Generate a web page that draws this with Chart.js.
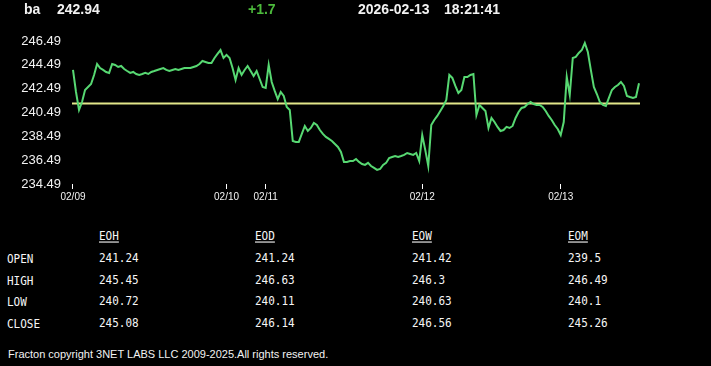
<!DOCTYPE html>
<html>
<head>
<meta charset="utf-8">
<script src="https://cdn.jsdelivr.net/npm/chart.js@4/dist/chart.umd.min.js"></script>
<style>
  html, body { margin: 0; padding: 0; background: #000; }
  body { width: 711px; height: 366px; position: relative; overflow: hidden; color: #f2f2f2; }
  .hdr { position: absolute; top: 2px; font: bold 14px "Liberation Sans", Arial, sans-serif; line-height: 14px; white-space: nowrap; }
  .cell { position: absolute; font: 11px "DejaVu Sans Mono", monospace; line-height: 12px; white-space: nowrap; color: #f6f6f6; transform: scaleY(1.12); transform-origin: 0 50%; }
  .cell.head { text-decoration: underline; }
  #chartBox { position: absolute; left: 0; top: 0; width: 711px; height: 212px; }
  #foot { position: absolute; left: 8px; top: 348px; font: 11px "Liberation Sans", Arial, sans-serif; line-height: 13px; letter-spacing: 0px; white-space: nowrap; }
</style>
</head>
<body>
<div id="chartBox"><canvas id="priceChart"></canvas></div>
<div id="header"></div>
<div id="table"></div>
<div id="foot">Fracton copyright 3NET LABS LLC 2009-2025.All rights reserved.</div>

<script>
// header info
const symbol = 'ba';
const lastPrice = '242.94';
const change = '+1.7';
const stamp = ['2026-02-13', '18:21:41'];

// intraday prices, one value per bar
const prices = [
  244.06, 242.21, 240.70, 241.37, 242.38, 242.63, 242.88, 243.64, 244.56, 244.22,
  244.06, 243.89, 243.81, 244.56, 244.48, 244.31, 244.39, 244.14, 243.97, 243.81,
  243.89, 243.72, 243.64, 243.72, 243.81, 243.72, 243.89, 243.97, 244.06, 244.14,
  244.22, 244.06, 243.97, 244.06, 244.14, 244.06, 244.14, 244.22, 244.22, 244.22,
  244.31, 244.39, 244.56, 244.81, 244.73, 244.64, 244.64, 245.06, 245.40, 245.73,
  245.06, 245.32, 245.06, 244.22, 243.22, 244.22, 243.64, 244.06, 244.39, 243.97,
  243.55, 243.97, 243.30, 242.63, 242.55, 244.48, 243.05, 242.30, 241.62, 242.21,
  241.88, 240.95, 240.70, 238.10, 238.02, 238.02, 238.69, 239.36, 238.94, 239.19,
  239.61, 239.44, 239.02, 238.69, 238.44, 238.27, 238.10, 237.85, 237.60, 237.18,
  236.34, 236.34, 236.42, 236.42, 236.59, 236.34, 236.17, 236.09, 236.26, 236.00,
  235.84, 235.67, 235.75, 236.09, 236.26, 236.67, 236.76, 236.84, 236.76, 236.84,
  236.93, 237.09, 237.01, 236.93, 237.09, 236.42, 238.60, 237.35, 236.00, 239.44,
  239.86, 240.20, 240.62, 241.04, 241.54, 243.64, 243.39, 242.72, 242.13, 242.38,
  243.47, 243.47, 243.64, 243.72, 240.28, 241.12, 240.87, 240.62, 239.19, 240.03,
  239.69, 239.28, 238.94, 239.02, 239.28, 239.19, 239.36, 240.03, 240.53, 240.87,
  240.95, 241.20, 241.37, 241.20, 241.12, 241.12, 240.95, 240.62, 240.20, 239.86,
  239.44, 239.11, 238.60, 239.69, 243.47, 241.96, 245.06, 245.15, 245.48, 245.73,
  246.32, 245.57, 244.06, 242.63, 242.04, 241.37, 241.12, 241.04, 241.71, 242.38,
  242.63, 242.80, 243.05, 242.72, 241.88, 241.79, 241.71, 241.79, 242.94
];
const refPrice = 241.24;

// x axis day markers (bar index) and y axis tick values
const dayIdx = [0, 51, 64, 116, 162];
const dayLabels = ['02/09', '02/10', '02/11', '02/12', '02/13'];
const yTicks = [234.49, 236.49, 238.49, 240.49, 242.49, 244.49, 246.49];

// summary table
const colNames = ['EOH', 'EOD', 'EOW', 'EOM'];
const rowNames = ['OPEN', 'HIGH', 'LOW', 'CLOSE'];
const openRow = ['241.24', '241.24', '241.42', '239.5'];
const highRow = ['245.45', '246.63', '246.3', '246.49'];
const lowRow = ['240.72', '240.11', '240.63', '240.1'];
const closeRow = ['245.08', '246.14', '246.56', '245.26'];

// header
const hdr = document.getElementById('header');
[[symbol, 24, '#f2f2f2'], [lastPrice, 57, '#f2f2f2'], [change, 248, '#4cbb3c'],
 [stamp[0], 358, '#f2f2f2'], [stamp[1], 444, '#f2f2f2']].forEach(([t, x, c]) => {
  const d = document.createElement('div');
  d.className = 'hdr';
  d.style.left = x + 'px';
  d.style.color = c;
  d.textContent = t;
  hdr.appendChild(d);
});

// table
const tbl = document.getElementById('table');
const colX = [99, 255, 412, 568];
const rowY = [253, 275, 296, 318];
const rows = [openRow, highRow, lowRow, closeRow];
function addCell(text, x, y, cls) {
  const d = document.createElement('div');
  d.className = 'cell' + (cls ? ' ' + cls : '');
  d.style.left = x + 'px';
  d.style.top = y + 'px';
  d.textContent = text;
  tbl.appendChild(d);
}
colNames.forEach((n, i) => addCell(n, colX[i], 231, 'head'));
rowNames.forEach((n, r) => {
  addCell(n, 7, rowY[r] + 1);
  rows[r].forEach((v, c) => addCell(v, colX[c], rowY[r]));
});

// chart
const ctx = document.getElementById('priceChart').getContext('2d');
const lastIdx = prices.length - 1;
new Chart(ctx, {
  type: 'line',
  data: {
    datasets: [
      {
        data: prices.map((p, i) => ({ x: i, y: p })),
        borderColor: '#57d872',
        borderWidth: 2,
        pointRadius: 0,
        tension: 0,
        order: 1
      },
      {
        data: [{ x: -0.33, y: refPrice }, { x: lastIdx + 0.33, y: refPrice }],
        borderColor: '#e2e68a',
        borderWidth: 2,
        pointRadius: 0,
        order: 2
      }
    ]
  },
  options: {
    responsive: true,
    maintainAspectRatio: false,
    animation: false,
    layout: { padding: { top: 38, right: 71, left: 0, bottom: 0 } },
    plugins: { legend: { display: false }, tooltip: { enabled: false } },
    scales: {
      x: {
        type: 'linear',
        min: -0.33,
        max: lastIdx + 0.33,
        afterBuildTicks: (s) => { s.ticks = dayIdx.map(v => ({ value: v })); },
        afterFit: (s) => { s.height = 28; },
        border: { display: false },
        grid: { drawOnChartArea: false, drawTicks: true, tickLength: 5, color: '#ffffff', lineWidth: 1 },
        ticks: {
          autoSkip: false,
          maxRotation: 0,
          padding: 2,
          color: '#f2f2f2',
          font: { family: 'Liberation Sans', size: 10 },
          callback: (v, i) => dayLabels[i]
        }
      },
      y: {
        min: 234.49,
        max: 246.74,
        afterBuildTicks: (s) => { s.ticks = yTicks.map(v => ({ value: v })); },
        afterFit: (s) => { s.width = 72; },
        border: { display: false },
        grid: { display: false, drawTicks: false },
        ticks: {
          padding: 11,
          color: '#f2f2f2',
          font: { family: 'Liberation Sans', size: 13 },
          callback: (v) => v.toFixed(2)
        }
      }
    }
  }
});
</script>
</body>
</html>
